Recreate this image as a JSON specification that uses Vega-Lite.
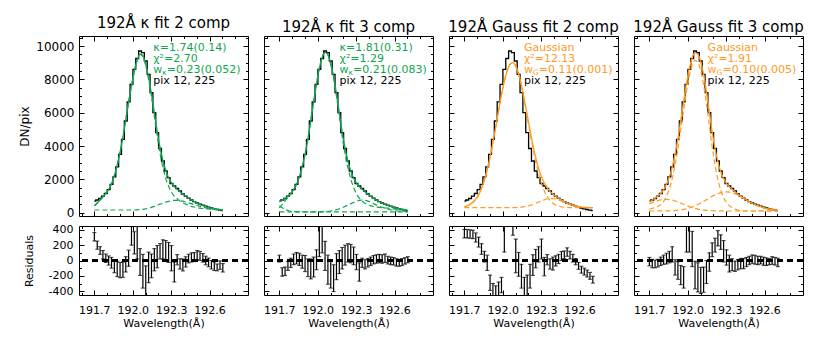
{
"$schema":"https://vega.github.io/schema/vega-lite/v6.json",
"background":"white",
"padding":{"left":18,"top":15,"right":5,"bottom":5},
"datasets":{"d":[
{"l":191.7,"v":690,"t1":420,"a1":420,"b1":160,"t2":660,"a2":290,"b2":50,"c2":420,"t3":366,"a3":366,"b3":300,"t4":620,"a4":195,"b4":525,"c4":100,"lo1":255,"hi1":365,"lo2":-20,"hi2":70,"lo3":295,"hi3":405,"lo4":-70,"hi4":40},
{"l":191.7223,"v":760,"t1":580,"a1":580,"b1":160,"t2":750,"a2":500,"b2":50,"c2":300,"t3":416,"a3":416,"b3":300,"t4":760,"a4":264,"b4":596,"c4":100,"lo1":147,"hi1":253,"lo2":-205,"hi2":-95,"lo3":295,"hi3":405,"lo4":-95,"hi4":15},
{"l":191.7446,"v":850,"t1":760,"a1":760,"b1":160,"t2":860,"a2":710,"b2":50,"c2":200,"t3":497,"a3":497,"b3":300,"t4":870,"a4":305,"b4":665,"c4":100,"lo1":80,"hi1":180,"lo2":-195,"hi2":-85,"lo3":290,"hi3":400,"lo4":-95,"hi4":5},
{"l":191.7669,"v":990,"t1":950,"a1":950,"b1":160,"t2":990,"a2":910,"b2":50,"c2":130,"t3":623,"a3":623,"b3":300,"t4":1000,"a4":375,"b4":723,"c4":102,"lo1":20,"hi1":130,"lo2":-128,"hi2":-12,"lo3":285,"hi3":395,"lo4":-85,"hi4":15},
{"l":191.7892,"v":1150,"t1":1150,"a1":1150,"b1":160,"t2":1150,"a2":1115,"b2":50,"c2":85,"t3":810,"a3":810,"b3":300,"t4":1150,"a4":480,"b4":766,"c4":104,"lo1":-25,"hi1":85,"lo2":-90,"hi2":30,"lo3":240,"hi3":360,"lo4":-65,"hi4":45},
{"l":191.8115,"v":1380,"t1":1390,"a1":1390,"b1":160,"t2":1380,"a2":1368,"b2":50,"c2":62,"t3":1080,"a3":1080,"b3":300,"t4":1380,"a4":681,"b4":793,"c4":106,"lo1":-60,"hi1":60,"lo2":-55,"hi2":85,"lo3":175,"hi3":305,"lo4":-50,"hi4":70},
{"l":191.8338,"v":1700,"t1":1740,"a1":1740,"b1":160,"t2":1700,"a2":1700,"b2":50,"c2":50,"t3":1454,"a3":1454,"b3":300,"t4":1700,"a4":990,"b4":800,"c4":110,"lo1":-100,"hi1":40,"lo2":-45,"hi2":105,"lo3":80,"hi3":220,"lo4":-45,"hi4":95},
{"l":191.8561,"v":2150,"t1":2220,"a1":2220,"b1":160,"t2":2150,"a2":2150,"b2":50,"c2":50,"t3":1948,"a3":1948,"b3":300,"t4":2150,"a4":1449,"b4":786,"c4":115,"lo1":-160,"hi1":10,"lo2":-65,"hi2":95,"lo3":-20,"hi3":120,"lo4":-30,"hi4":120},
{"l":191.8784,"v":2750,"t1":2850,"a1":2850,"b1":160,"t2":2750,"a2":2750,"b2":50,"c2":50,"t3":2573,"a3":2573,"b3":300,"t4":2720,"a4":2043,"b4":754,"c4":123,"lo1":-210,"hi1":-10,"lo2":-100,"hi2":70,"lo3":-130,"hi3":70,"lo4":-20,"hi4":180},
{"l":191.9007,"v":3500,"t1":3620,"a1":3620,"b1":160,"t2":3500,"a2":3500,"b2":50,"c2":50,"t3":3328,"a3":3328,"b3":300,"t4":3520,"a4":2884,"b4":703,"c4":133,"lo1":-225,"hi1":-25,"lo2":-145,"hi2":65,"lo3":-390,"hi3":-190,"lo4":-190,"hi4":10},
{"l":191.923,"v":4400,"t1":4530,"a1":4530,"b1":160,"t2":4420,"a2":4420,"b2":50,"c2":50,"t3":4200,"a3":4200,"b3":300,"t4":4450,"a4":3859,"b4":642,"c4":149,"lo1":-220,"hi1":-20,"lo2":-210,"hi2":20,"lo3":-500,"hi3":-300,"lo4":-245,"hi4":-15},
{"l":191.9453,"v":5500,"t1":5580,"a1":5580,"b1":160,"t2":5520,"a2":5520,"b2":50,"c2":50,"t3":5150,"a3":5150,"b3":300,"t4":5550,"a4":5007,"b4":573,"c4":170,"lo1":-150,"hi1":50,"lo2":-240,"hi2":20,"lo3":-530,"hi3":-330,"lo4":-315,"hi4":-65},
{"l":191.9676,"v":6650,"t1":6640,"a1":6640,"b1":160,"t2":6650,"a2":6650,"b2":50,"c2":50,"t3":6130,"a3":6130,"b3":300,"t4":6650,"a4":6152,"b4":499,"c4":199,"lo1":-75,"hi1":135,"lo2":-215,"hi2":45,"lo3":-480,"hi3":-280,"lo4":-360,"hi4":-80},
{"l":191.9899,"v":7700,"t1":7600,"a1":7600,"b1":160,"t2":7720,"a2":7720,"b2":50,"c2":50,"t3":7065,"a3":7065,"b3":300,"t4":7750,"a4":7286,"b4":428,"c4":236,"lo1":200,"hi1":460,"lo2":-120,"hi2":140,"lo3":-420,"hi3":-220,"lo4":110,"hi4":470},
{"l":192.0122,"v":8600,"t1":8480,"a1":8480,"b1":160,"t2":8650,"a2":8650,"b2":50,"c2":50,"t3":7886,"a3":7886,"b3":300,"t4":8650,"a4":8205,"b4":363,"c4":282,"lo1":85,"hi1":375,"lo2":50,"hi2":470,"lo3":110,"hi3":490,"lo4":110,"hi4":490},
{"l":192.0345,"v":9250,"t1":9150,"a1":9140,"b1":170,"t2":9330,"a2":9330,"b2":50,"c2":50,"t3":8518,"a3":8518,"b3":300,"t4":9300,"a4":8856,"b4":302,"c4":342,"lo1":20,"hi1":460,"lo2":100,"hi2":500,"lo3":550,"hi3":850,"lo4":-80,"hi4":380},
{"l":192.0568,"v":9700,"t1":9520,"a1":9500,"b1":180,"t2":9620,"a2":9610,"b2":60,"c2":50,"t3":8901,"a3":8901,"b3":300,"t4":9600,"a4":9137,"b4":253,"c4":410,"lo1":-195,"hi1":155,"lo2":-130,"hi2":250,"lo3":540,"hi3":860,"lo4":-370,"hi4":-10},
{"l":192.0791,"v":9600,"t1":9420,"a1":9380,"b1":200,"t2":9480,"a2":9455,"b2":75,"c2":50,"t3":9001,"a3":8995,"b3":306,"t4":9500,"a4":8999,"b4":212,"c4":489,"lo1":-360,"hi1":80,"lo2":-310,"hi2":70,"lo3":330,"hi3":630,"lo4":-410,"hi4":-30},
{"l":192.1014,"v":9100,"t1":8900,"a1":8830,"b1":230,"t2":8950,"a2":8900,"b2":100,"c2":50,"t3":8803,"a3":8792,"b3":311,"t4":9050,"a4":8493,"b4":180,"c4":577,"lo1":-530,"hi1":-70,"lo2":-360,"hi2":0,"lo3":-160,"hi3":280,"lo4":-430,"hi4":-90},
{"l":192.1237,"v":8300,"t1":8120,"a1":8010,"b1":270,"t2":8150,"a2":8065,"b2":135,"c2":50,"t3":8334,"a3":8313,"b3":321,"t4":8300,"a4":7668,"b4":154,"c4":678,"lo1":-290,"hi1":110,"lo2":-405,"hi2":-55,"lo3":-205,"hi3":105,"lo4":-415,"hi4":-85},
{"l":192.146,"v":7200,"t1":7120,"a1":6960,"b1":320,"t2":7120,"a2":6990,"b2":180,"c2":50,"t3":7636,"a3":7600,"b3":336,"t4":7250,"a4":6534,"b4":137,"c4":779,"lo1":-225,"hi1":85,"lo2":-250,"hi2":90,"lo3":-360,"hi3":-50,"lo4":-300,"hi4":0},
{"l":192.1683,"v":6000,"t1":6000,"a1":5780,"b1":380,"t2":5980,"a2":5795,"b2":235,"c2":50,"t3":6788,"a3":6730,"b3":358,"t4":6050,"a4":5245,"b4":124,"c4":881,"lo1":-135,"hi1":155,"lo2":-170,"hi2":130,"lo3":-480,"hi3":-220,"lo4":-140,"hi4":100},
{"l":192.1906,"v":4800,"t1":4890,"a1":4610,"b1":440,"t2":4850,"a2":4600,"b2":300,"c2":50,"t3":5864,"a3":5772,"b3":392,"t4":4850,"a4":3952,"b4":115,"c4":983,"lo1":-95,"hi1":195,"lo2":-110,"hi2":170,"lo3":-470,"hi3":-190,"lo4":50,"hi4":230},
{"l":192.2129,"v":3850,"t1":3910,"a1":3560,"b1":510,"t2":3880,"a2":3560,"b2":370,"c2":50,"t3":4934,"a3":4798,"b3":436,"t4":3850,"a4":2869,"b4":109,"c4":1072,"lo1":20,"hi1":220,"lo2":-60,"hi2":200,"lo3":-360,"hi3":-50,"lo4":110,"hi4":290},
{"l":192.2352,"v":3100,"t1":3130,"a1":2720,"b1":570,"t2":3100,"a2":2700,"b2":450,"c2":50,"t3":4059,"a3":3867,"b3":492,"t4":3050,"a4":1998,"b4":105,"c4":1147,"lo1":20,"hi1":270,"lo2":-20,"hi2":220,"lo3":-195,"hi3":75,"lo4":190,"hi4":390},
{"l":192.2575,"v":2500,"t1":2530,"a1":2060,"b1":630,"t2":2500,"a2":2020,"b2":530,"c2":50,"t3":3297,"a3":3036,"b3":561,"t4":2450,"a4":1341,"b4":103,"c4":1206,"lo1":0,"hi1":260,"lo2":-30,"hi2":210,"lo3":-95,"hi3":145,"lo4":145,"hi4":335},
{"l":192.2798,"v":2100,"t1":2100,"a1":1580,"b1":680,"t2":2080,"a2":1520,"b2":610,"c2":50,"t3":2661,"a3":2327,"b3":634,"t4":2050,"a4":910,"b4":100,"c4":1240,"lo1":-25,"hi1":235,"lo2":-55,"hi2":175,"lo3":-20,"hi3":180,"lo4":-20,"hi4":260},
{"l":192.3021,"v":1750,"t1":1790,"a1":1230,"b1":720,"t2":1770,"a2":1140,"b2":680,"c2":50,"t3":2157,"a3":1751,"b3":706,"t4":1760,"a4":610,"b4":100,"c4":1250,"lo1":-135,"hi1":195,"lo2":-120,"hi2":80,"lo3":20,"hi3":280,"lo4":-60,"hi4":140},
{"l":192.3244,"v":1600,"t1":1570,"a1":990,"b1":740,"t2":1560,"a2":870,"b2":740,"c2":50,"t3":1773,"a3":1303,"b3":770,"t4":1560,"a4":425,"b4":100,"c4":1235,"lo1":-280,"hi1":-20,"lo2":-270,"hi2":-30,"lo3":-200,"hi3":40,"lo4":-150,"hi4":70},
{"l":192.3467,"v":1450,"t1":1410,"a1":830,"b1":740,"t2":1400,"a2":690,"b2":760,"c2":50,"t3":1491,"a3":970,"b3":821,"t4":1400,"a4":305,"b4":100,"c4":1195,"lo1":-57,"hi1":77,"lo2":-90,"hi2":30,"lo3":-57,"hi3":77,"lo4":-133,"hi4":23},
{"l":192.369,"v":1300,"t1":1260,"a1":700,"b1":720,"t2":1250,"a2":560,"b2":740,"c2":50,"t3":1280,"a3":733,"b3":847,"t4":1250,"a4":215,"b4":100,"c4":1135,"lo1":-112,"hi1":22,"lo2":-110,"hi2":10,"lo3":-112,"hi3":22,"lo4":-142,"hi4":-8},
{"l":192.3913,"v":1120,"t1":1120,"a1":590,"b1":690,"t2":1110,"a2":470,"b2":690,"c2":50,"t3":1117,"a3":570,"b3":847,"t4":1110,"a4":153,"b4":100,"c4":1057,"lo1":-136,"hi1":20,"lo2":-85,"hi2":25,"lo3":-125,"hi3":45,"lo4":-122,"hi4":12},
{"l":192.4136,"v":990,"t1":990,"a1":510,"b1":640,"t2":980,"a2":410,"b2":620,"c2":50,"t3":984,"a3":463,"b3":821,"t4":980,"a4":114,"b4":100,"c4":966,"lo1":-85,"hi1":49,"lo2":-65,"hi2":45,"lo3":-72,"hi3":62,"lo4":-107,"hi4":27},
{"l":192.4359,"v":870,"t1":870,"a1":440,"b1":590,"t2":860,"a2":370,"b2":540,"c2":50,"t3":866,"a3":396,"b3":770,"t4":860,"a4":100,"b4":100,"c4":862,"lo1":-31,"hi1":81,"lo2":-45,"hi2":65,"lo3":-40,"hi3":80,"lo4":-107,"hi4":27},
{"l":192.4582,"v":760,"t1":760,"a1":380,"b1":540,"t2":755,"a2":345,"b2":460,"c2":50,"t3":760,"a3":354,"b3":706,"t4":750,"a4":100,"b4":100,"c4":760,"lo1":-20,"hi1":100,"lo2":-35,"hi2":75,"lo3":2,"hi3":118,"lo4":-80,"hi4":40},
{"l":192.4805,"v":660,"t1":660,"a1":340,"b1":480,"t2":660,"a2":320,"b2":390,"c2":50,"t3":664,"a3":330,"b3":634,"t4":650,"a4":100,"b4":100,"c4":660,"lo1":-13,"hi1":103,"lo2":-30,"hi2":80,"lo3":25,"hi3":125,"lo4":-55,"hi4":55},
{"l":192.5028,"v":580,"t1":570,"a1":300,"b1":430,"t2":575,"a2":300,"b2":325,"c2":50,"t3":574,"a3":316,"b3":558,"t4":565,"a4":100,"b4":100,"c4":560,"lo1":10,"hi1":130,"lo2":-35,"hi2":75,"lo3":55,"hi3":165,"lo4":-37,"hi4":73},
{"l":192.5251,"v":510,"t1":490,"a1":270,"b1":380,"t2":500,"a2":285,"b2":265,"c2":50,"t3":500,"a3":308,"b3":492,"t4":490,"a4":100,"b4":100,"c4":474,"lo1":2,"hi1":118,"lo2":-25,"hi2":85,"lo3":20,"hi3":120,"lo4":-48,"hi4":68},
{"l":192.5474,"v":450,"t1":420,"a1":250,"b1":330,"t2":435,"a2":270,"b2":215,"c2":50,"t3":440,"a3":304,"b3":436,"t4":420,"a4":100,"b4":100,"c4":397,"lo1":-21,"hi1":91,"lo2":-45,"hi2":55,"lo3":-20,"hi3":80,"lo4":-55,"hi4":55},
{"l":192.5697,"v":390,"t1":365,"a1":235,"b1":290,"t2":375,"a2":250,"b2":175,"c2":50,"t3":392,"a3":302,"b3":390,"t4":360,"a4":100,"b4":100,"c4":328,"lo1":-56,"hi1":56,"lo2":-55,"hi2":45,"lo3":-55,"hi3":25,"lo4":-45,"hi4":55},
{"l":192.592,"v":330,"t1":315,"a1":225,"b1":250,"t2":320,"a2":230,"b2":140,"c2":50,"t3":358,"a3":300,"b3":358,"t4":305,"a4":100,"b4":100,"c4":273,"lo1":-81,"hi1":31,"lo2":-58,"hi2":38,"lo3":-115,"hi3":-25,"lo4":-63,"hi4":43},
{"l":192.6143,"v":280,"t1":270,"a1":210,"b1":220,"t2":270,"a2":205,"b2":115,"c2":50,"t3":336,"a3":300,"b3":336,"t4":260,"a4":100,"b4":100,"c4":229,"lo1":-111,"hi1":1,"lo2":-73,"hi2":23,"lo3":-165,"hi3":-75,"lo4":-65,"hi4":35},
{"l":192.6366,"v":230,"t1":235,"a1":195,"b1":200,"t2":230,"a2":185,"b2":95,"c2":50,"t3":321,"a3":300,"b3":321,"t4":225,"a4":100,"b4":100,"c4":193,"lo1":-131,"hi1":-19,"lo2":-75,"hi2":15,"lo3":-190,"hi3":-100,"lo4":-55,"hi4":25},
{"l":192.6589,"v":190,"t1":205,"a1":185,"b1":180,"t2":195,"a2":165,"b2":80,"c2":50,"t3":311,"a3":300,"b3":311,"t4":195,"a4":100,"b4":100,"c4":166,"lo1":-135,"hi1":-45,"lo2":-65,"hi2":25,"lo3":-215,"hi3":-125,"lo4":-50,"hi4":50},
{"l":192.6812,"v":150,"t1":180,"a1":170,"b1":170,"t2":165,"a2":147,"b2":68,"c2":50,"t3":306,"a3":300,"b3":306,"t4":170,"a4":100,"b4":100,"c4":146,"lo1":-115,"hi1":-5,"lo2":-47,"hi2":37,"lo3":-245,"hi3":-155,"lo4":-60,"hi4":40},
{"l":192.7035,"v":120,"t1":160,"a1":160,"b1":160,"t2":140,"a2":130,"b2":60,"c2":50,"t3":303,"a3":300,"b3":303,"t4":150,"a4":100,"b4":100,"c4":131,"lo1":-150,"hi1":-40,"lo2":-30,"hi2":50,"lo3":-295,"hi3":-205,"lo4":-80,"hi4":30}
]},
"data":{"name":"d"},
"config":{
"font":"DejaVu Sans",
"view":{"stroke":"black","strokeWidth":1},
"axis":{"domain":false,"grid":false,"tickColor":"black","tickWidth":1,"labelColor":"black","titleColor":"black","labelFont":"DejaVu Sans","titleFont":"DejaVu Sans","titleFontWeight":"normal","labelOverlap":false,"labelFlush":false},
"title":{"font":"DejaVu Sans","fontSize":15,"fontWeight":"normal","color":"black","offset":1,"anchor":"middle"},
"text":{"font":"DejaVu Sans"}
},
"columns":4,
"bounds":"flush",
"spacing":{"row":10,"column":16},
"concat":[
{"width":169,"height":180,"title":"192Å κ fit 2 comp","resolve":{"axis":{"x":"independent","y":"independent"}},
"layer":[
{"mark":{"type":"line","interpolate":"step","color":"black","strokeWidth":1.3},
"encoding":{"x":{"field":"l","type":"quantitative","scale":{"domain":[191.58,192.9],"nice":false,"zero":false},"axis":{"values":[191.6,191.7,191.8,191.9,192.0,192.1,192.2,192.3,192.4,192.5,192.6,192.7,192.8],"labels":false,"title":null,"tickSize":{"condition":{"test":"round(datum.value*10)%3==0","value":-5},"value":-2.5}}},
"y":{"field":"v","type":"quantitative","scale":{"domain":[-200,10600],"nice":false,"zero":false},"axis":{"values":[0,500,1000,1500,2000,2500,3000,3500,4000,4500,5000,5500,6000,6500,7000,7500,8000,8500,9000,9500,10000,10500],"format":"d","labelExpr":"datum.value%2000==0 ? datum.label : ''","title":"DN/pix","titleFontSize":12,"labelFontSize":12,"labelPadding":10,"titlePadding":4,"tickSize":{"condition":{"test":"datum.value%2000==0","value":-5},"value":-2.5}}}}},
{"mark":{"type":"line","interpolate":"monotone","color":"#10a650","strokeWidth":1.3},"encoding":{"x":{"field":"l","type":"quantitative","axis":null},"y":{"field":"t1","type":"quantitative","axis":null}}},
{"transform":[{"fold":["a1","b1"],"as":["c","w"]}],"mark":{"type":"line","interpolate":"monotone","color":"#10a650","strokeWidth":1.2,"strokeDash":[5,3]},"encoding":{"x":{"field":"l","type":"quantitative","axis":null},"y":{"field":"w","type":"quantitative","axis":null},"detail":{"field":"c"}}},
{"data":{"values":[{}]},"mark":{"type":"text","align":"left","baseline":"middle","fontSize":11,"color":"#10a650","text":"κ=1.74(0.14)"},"encoding":{"x":{"datum":192.16,"type":"quantitative","axis":null},"y":{"datum":9900,"type":"quantitative","axis":null}}},
{"data":{"values":[{}]},"mark":{"type":"text","align":"left","baseline":"middle","fontSize":11,"color":"#10a650","text":"χ²=2.70"},"encoding":{"x":{"datum":192.16,"type":"quantitative","axis":null},"y":{"datum":9240,"type":"quantitative","axis":null}}},
{"data":{"values":[{}]},"mark":{"type":"text","align":"left","baseline":"middle","fontSize":11,"color":"#10a650","text":"w"},"encoding":{"x":{"datum":192.16,"type":"quantitative","axis":null},"y":{"datum":8580,"type":"quantitative","axis":null}}},
{"data":{"values":[{}]},"mark":{"type":"text","align":"left","baseline":"middle","fontSize":7.5,"dx":9,"dy":3,"color":"#10a650","text":"κ"},"encoding":{"x":{"datum":192.16,"type":"quantitative","axis":null},"y":{"datum":8580,"type":"quantitative","axis":null}}},
{"data":{"values":[{}]},"mark":{"type":"text","align":"left","baseline":"middle","fontSize":11,"dx":13.5,"color":"#10a650","text":"=0.23(0.052)"},"encoding":{"x":{"datum":192.16,"type":"quantitative","axis":null},"y":{"datum":8580,"type":"quantitative","axis":null}}},
{"data":{"values":[{}]},"mark":{"type":"text","align":"left","baseline":"middle","fontSize":11,"color":"black","text":"pix 12, 225"},"encoding":{"x":{"datum":192.16,"type":"quantitative","axis":null},"y":{"datum":7900,"type":"quantitative","axis":null}}},
{"mark":{"type":"point","opacity":0},"encoding":{"x":{"field":"l","type":"quantitative","axis":{"orient":"top","values":[191.6,191.7,191.8,191.9,192.0,192.1,192.2,192.3,192.4,192.5,192.6,192.7,192.8],"labels":false,"title":null,"tickSize":{"condition":{"test":"round(datum.value*10)%3==0","value":-5},"value":-2.5}}},"y":{"field":"v","type":"quantitative","axis":{"orient":"right","values":[0,500,1000,1500,2000,2500,3000,3500,4000,4500,5000,5500,6000,6500,7000,7500,8000,8500,9000,9500,10000,10500],"labels":false,"title":null,"tickSize":{"condition":{"test":"datum.value%2000==0","value":-5},"value":-2.5}}}}}
]},
{"width":169,"height":180,"title":"192Å κ fit 3 comp","resolve":{"axis":{"x":"independent","y":"independent"}},
"layer":[
{"mark":{"type":"line","interpolate":"step","color":"black","strokeWidth":1.3},
"encoding":{"x":{"field":"l","type":"quantitative","scale":{"domain":[191.58,192.9],"nice":false,"zero":false},"axis":{"values":[191.6,191.7,191.8,191.9,192.0,192.1,192.2,192.3,192.4,192.5,192.6,192.7,192.8],"labels":false,"title":null,"tickSize":{"condition":{"test":"round(datum.value*10)%3==0","value":-5},"value":-2.5}}},
"y":{"field":"v","type":"quantitative","scale":{"domain":[-200,10600],"nice":false,"zero":false},"axis":{"values":[0,500,1000,1500,2000,2500,3000,3500,4000,4500,5000,5500,6000,6500,7000,7500,8000,8500,9000,9500,10000,10500],"labels":false,"title":null,"tickSize":{"condition":{"test":"datum.value%2000==0","value":-5},"value":-2.5}}}}},
{"mark":{"type":"line","interpolate":"monotone","color":"#10a650","strokeWidth":1.3},"encoding":{"x":{"field":"l","type":"quantitative","axis":null},"y":{"field":"t2","type":"quantitative","axis":null}}},
{"transform":[{"fold":["a2","b2","c2"],"as":["c","w"]}],"mark":{"type":"line","interpolate":"monotone","color":"#10a650","strokeWidth":1.2,"strokeDash":[5,3]},"encoding":{"x":{"field":"l","type":"quantitative","axis":null},"y":{"field":"w","type":"quantitative","axis":null},"detail":{"field":"c"}}},
{"data":{"values":[{}]},"mark":{"type":"text","align":"left","baseline":"middle","fontSize":11,"color":"#10a650","text":"κ=1.81(0.31)"},"encoding":{"x":{"datum":192.17,"type":"quantitative","axis":null},"y":{"datum":9900,"type":"quantitative","axis":null}}},
{"data":{"values":[{}]},"mark":{"type":"text","align":"left","baseline":"middle","fontSize":11,"color":"#10a650","text":"χ²=1.29"},"encoding":{"x":{"datum":192.17,"type":"quantitative","axis":null},"y":{"datum":9240,"type":"quantitative","axis":null}}},
{"data":{"values":[{}]},"mark":{"type":"text","align":"left","baseline":"middle","fontSize":11,"color":"#10a650","text":"w"},"encoding":{"x":{"datum":192.17,"type":"quantitative","axis":null},"y":{"datum":8580,"type":"quantitative","axis":null}}},
{"data":{"values":[{}]},"mark":{"type":"text","align":"left","baseline":"middle","fontSize":7.5,"dx":9,"dy":3,"color":"#10a650","text":"κ"},"encoding":{"x":{"datum":192.17,"type":"quantitative","axis":null},"y":{"datum":8580,"type":"quantitative","axis":null}}},
{"data":{"values":[{}]},"mark":{"type":"text","align":"left","baseline":"middle","fontSize":11,"dx":13.5,"color":"#10a650","text":"=0.21(0.083)"},"encoding":{"x":{"datum":192.17,"type":"quantitative","axis":null},"y":{"datum":8580,"type":"quantitative","axis":null}}},
{"data":{"values":[{}]},"mark":{"type":"text","align":"left","baseline":"middle","fontSize":11,"color":"black","text":"pix 12, 225"},"encoding":{"x":{"datum":192.17,"type":"quantitative","axis":null},"y":{"datum":7900,"type":"quantitative","axis":null}}},
{"mark":{"type":"point","opacity":0},"encoding":{"x":{"field":"l","type":"quantitative","axis":{"orient":"top","values":[191.6,191.7,191.8,191.9,192.0,192.1,192.2,192.3,192.4,192.5,192.6,192.7,192.8],"labels":false,"title":null,"tickSize":{"condition":{"test":"round(datum.value*10)%3==0","value":-5},"value":-2.5}}},"y":{"field":"v","type":"quantitative","axis":{"orient":"right","values":[0,500,1000,1500,2000,2500,3000,3500,4000,4500,5000,5500,6000,6500,7000,7500,8000,8500,9000,9500,10000,10500],"labels":false,"title":null,"tickSize":{"condition":{"test":"datum.value%2000==0","value":-5},"value":-2.5}}}}}
]},
{"width":169,"height":180,"title":"192Å Gauss fit 2 comp","resolve":{"axis":{"x":"independent","y":"independent"}},
"layer":[
{"mark":{"type":"line","interpolate":"step","color":"black","strokeWidth":1.3},
"encoding":{"x":{"field":"l","type":"quantitative","scale":{"domain":[191.58,192.9],"nice":false,"zero":false},"axis":{"values":[191.6,191.7,191.8,191.9,192.0,192.1,192.2,192.3,192.4,192.5,192.6,192.7,192.8],"labels":false,"title":null,"tickSize":{"condition":{"test":"round(datum.value*10)%3==0","value":-5},"value":-2.5}}},
"y":{"field":"v","type":"quantitative","scale":{"domain":[-200,10600],"nice":false,"zero":false},"axis":{"values":[0,500,1000,1500,2000,2500,3000,3500,4000,4500,5000,5500,6000,6500,7000,7500,8000,8500,9000,9500,10000,10500],"labels":false,"title":null,"tickSize":{"condition":{"test":"datum.value%2000==0","value":-5},"value":-2.5}}}}},
{"mark":{"type":"line","interpolate":"monotone","color":"#ff9a1e","strokeWidth":1.3},"encoding":{"x":{"field":"l","type":"quantitative","axis":null},"y":{"field":"t3","type":"quantitative","axis":null}}},
{"transform":[{"fold":["a3","b3"],"as":["c","w"]}],"mark":{"type":"line","interpolate":"monotone","color":"#ff9a1e","strokeWidth":1.2,"strokeDash":[5,3]},"encoding":{"x":{"field":"l","type":"quantitative","axis":null},"y":{"field":"w","type":"quantitative","axis":null},"detail":{"field":"c"}}},
{"data":{"values":[{}]},"mark":{"type":"text","align":"left","baseline":"middle","fontSize":11,"color":"#ff9a1e","text":"Gaussian"},"encoding":{"x":{"datum":192.165,"type":"quantitative","axis":null},"y":{"datum":9900,"type":"quantitative","axis":null}}},
{"data":{"values":[{}]},"mark":{"type":"text","align":"left","baseline":"middle","fontSize":11,"color":"#ff9a1e","text":"χ²=12.13"},"encoding":{"x":{"datum":192.165,"type":"quantitative","axis":null},"y":{"datum":9240,"type":"quantitative","axis":null}}},
{"data":{"values":[{}]},"mark":{"type":"text","align":"left","baseline":"middle","fontSize":11,"color":"#ff9a1e","text":"w"},"encoding":{"x":{"datum":192.165,"type":"quantitative","axis":null},"y":{"datum":8580,"type":"quantitative","axis":null}}},
{"data":{"values":[{}]},"mark":{"type":"text","align":"left","baseline":"middle","fontSize":7.5,"dx":9,"dy":3,"color":"#ff9a1e","text":"G"},"encoding":{"x":{"datum":192.165,"type":"quantitative","axis":null},"y":{"datum":8580,"type":"quantitative","axis":null}}},
{"data":{"values":[{}]},"mark":{"type":"text","align":"left","baseline":"middle","fontSize":11,"dx":14.8,"color":"#ff9a1e","text":"=0.11(0.001)"},"encoding":{"x":{"datum":192.165,"type":"quantitative","axis":null},"y":{"datum":8580,"type":"quantitative","axis":null}}},
{"data":{"values":[{}]},"mark":{"type":"text","align":"left","baseline":"middle","fontSize":11,"color":"black","text":"pix 12, 225"},"encoding":{"x":{"datum":192.165,"type":"quantitative","axis":null},"y":{"datum":7900,"type":"quantitative","axis":null}}},
{"mark":{"type":"point","opacity":0},"encoding":{"x":{"field":"l","type":"quantitative","axis":{"orient":"top","values":[191.6,191.7,191.8,191.9,192.0,192.1,192.2,192.3,192.4,192.5,192.6,192.7,192.8],"labels":false,"title":null,"tickSize":{"condition":{"test":"round(datum.value*10)%3==0","value":-5},"value":-2.5}}},"y":{"field":"v","type":"quantitative","axis":{"orient":"right","values":[0,500,1000,1500,2000,2500,3000,3500,4000,4500,5000,5500,6000,6500,7000,7500,8000,8500,9000,9500,10000,10500],"labels":false,"title":null,"tickSize":{"condition":{"test":"datum.value%2000==0","value":-5},"value":-2.5}}}}}
]},
{"width":169,"height":180,"title":"192Å Gauss fit 3 comp","resolve":{"axis":{"x":"independent","y":"independent"}},
"layer":[
{"mark":{"type":"line","interpolate":"step","color":"black","strokeWidth":1.3},
"encoding":{"x":{"field":"l","type":"quantitative","scale":{"domain":[191.58,192.9],"nice":false,"zero":false},"axis":{"values":[191.6,191.7,191.8,191.9,192.0,192.1,192.2,192.3,192.4,192.5,192.6,192.7,192.8],"labels":false,"title":null,"tickSize":{"condition":{"test":"round(datum.value*10)%3==0","value":-5},"value":-2.5}}},
"y":{"field":"v","type":"quantitative","scale":{"domain":[-200,10600],"nice":false,"zero":false},"axis":{"values":[0,500,1000,1500,2000,2500,3000,3500,4000,4500,5000,5500,6000,6500,7000,7500,8000,8500,9000,9500,10000,10500],"labels":false,"title":null,"tickSize":{"condition":{"test":"datum.value%2000==0","value":-5},"value":-2.5}}}}},
{"mark":{"type":"line","interpolate":"monotone","color":"#ff9a1e","strokeWidth":1.3},"encoding":{"x":{"field":"l","type":"quantitative","axis":null},"y":{"field":"t4","type":"quantitative","axis":null}}},
{"transform":[{"fold":["a4","b4","c4"],"as":["c","w"]}],"mark":{"type":"line","interpolate":"monotone","color":"#ff9a1e","strokeWidth":1.2,"strokeDash":[5,3]},"encoding":{"x":{"field":"l","type":"quantitative","axis":null},"y":{"field":"w","type":"quantitative","axis":null},"detail":{"field":"c"}}},
{"data":{"values":[{}]},"mark":{"type":"text","align":"left","baseline":"middle","fontSize":11,"color":"#ff9a1e","text":"Gaussian"},"encoding":{"x":{"datum":192.155,"type":"quantitative","axis":null},"y":{"datum":9900,"type":"quantitative","axis":null}}},
{"data":{"values":[{}]},"mark":{"type":"text","align":"left","baseline":"middle","fontSize":11,"color":"#ff9a1e","text":"χ²=1.91"},"encoding":{"x":{"datum":192.155,"type":"quantitative","axis":null},"y":{"datum":9240,"type":"quantitative","axis":null}}},
{"data":{"values":[{}]},"mark":{"type":"text","align":"left","baseline":"middle","fontSize":11,"color":"#ff9a1e","text":"w"},"encoding":{"x":{"datum":192.155,"type":"quantitative","axis":null},"y":{"datum":8580,"type":"quantitative","axis":null}}},
{"data":{"values":[{}]},"mark":{"type":"text","align":"left","baseline":"middle","fontSize":7.5,"dx":9,"dy":3,"color":"#ff9a1e","text":"G"},"encoding":{"x":{"datum":192.155,"type":"quantitative","axis":null},"y":{"datum":8580,"type":"quantitative","axis":null}}},
{"data":{"values":[{}]},"mark":{"type":"text","align":"left","baseline":"middle","fontSize":11,"dx":14.8,"color":"#ff9a1e","text":"=0.10(0.005)"},"encoding":{"x":{"datum":192.155,"type":"quantitative","axis":null},"y":{"datum":8580,"type":"quantitative","axis":null}}},
{"data":{"values":[{}]},"mark":{"type":"text","align":"left","baseline":"middle","fontSize":11,"color":"black","text":"pix 12, 225"},"encoding":{"x":{"datum":192.155,"type":"quantitative","axis":null},"y":{"datum":7900,"type":"quantitative","axis":null}}},
{"mark":{"type":"point","opacity":0},"encoding":{"x":{"field":"l","type":"quantitative","axis":{"orient":"top","values":[191.6,191.7,191.8,191.9,192.0,192.1,192.2,192.3,192.4,192.5,192.6,192.7,192.8],"labels":false,"title":null,"tickSize":{"condition":{"test":"round(datum.value*10)%3==0","value":-5},"value":-2.5}}},"y":{"field":"v","type":"quantitative","axis":{"orient":"right","values":[0,500,1000,1500,2000,2500,3000,3500,4000,4500,5000,5500,6000,6500,7000,7500,8000,8500,9000,9500,10000,10500],"labels":false,"title":null,"tickSize":{"condition":{"test":"datum.value%2000==0","value":-5},"value":-2.5}}}}}
]},
{"width":169,"height":69,"resolve":{"axis":{"x":"independent","y":"independent"}},
"layer":[
{"mark":{"type":"rule","color":"black","strokeWidth":1.2,"clip":true},
"encoding":{"x":{"field":"l","type":"quantitative","scale":{"domain":[191.58,192.9],"nice":false,"zero":false},"axis":{"values":[191.6,191.7,191.8,191.9,192.0,192.1,192.2,192.3,192.4,192.5,192.6,192.7,192.8],"format":".1f","labelExpr":"round(datum.value*10)%3==0 ? datum.label : ''","title":"Wavelength(Å)","titleFontSize":11,"labelFontSize":11,"labelPadding":14,"titlePadding":0,"tickSize":{"condition":{"test":"round(datum.value*10)%3==0","value":-5},"value":-2.5}}},
"y":{"field":"lo1","type":"quantitative","scale":{"domain":[-450,450],"nice":false,"zero":false},"axis":{"values":[-400,-300,-200,-100,0,100,200,300,400],"format":"d","labelExpr":"datum.value%200==0 ? replace(datum.label,'−','-') : ''","title":"Residuals","titleFontSize":11,"labelFontSize":11,"labelPadding":11,"titlePadding":14,"tickSize":{"condition":{"test":"datum.value%200==0","value":-5},"value":-2.5}}},
"y2":{"field":"hi1"}}},
{"mark":{"type":"tick","orient":"horizontal","color":"black","size":4,"thickness":1.1,"clip":true},"encoding":{"x":{"field":"l","type":"quantitative","scale":{"domain":[191.58,192.9],"nice":false,"zero":false},"axis":null},"y":{"field":"lo1","type":"quantitative","scale":{"domain":[-450,450],"nice":false,"zero":false},"axis":null}}},
{"mark":{"type":"tick","orient":"horizontal","color":"black","size":4,"thickness":1.1,"clip":true},"encoding":{"x":{"field":"l","type":"quantitative","scale":{"domain":[191.58,192.9],"nice":false,"zero":false},"axis":null},"y":{"field":"hi1","type":"quantitative","scale":{"domain":[-450,450],"nice":false,"zero":false},"axis":null}}},
{"mark":{"type":"rule","color":"black","strokeDash":[6,4],"strokeWidth":1.6},"encoding":{"y":{"datum":0,"type":"quantitative","scale":{"domain":[-450,450],"nice":false,"zero":false},"axis":null}}},
{"mark":{"type":"point","opacity":0,"clip":true},"encoding":{"x":{"field":"l","type":"quantitative","scale":{"domain":[191.58,192.9],"nice":false,"zero":false},"axis":{"orient":"top","values":[191.6,191.7,191.8,191.9,192.0,192.1,192.2,192.3,192.4,192.5,192.6,192.7,192.8],"labels":false,"title":null,"tickSize":{"condition":{"test":"round(datum.value*10)%3==0","value":-5},"value":-2.5}}},"y":{"field":"lo1","type":"quantitative","scale":{"domain":[-450,450],"nice":false,"zero":false},"axis":{"orient":"right","values":[-400,-300,-200,-100,0,100,200,300,400],"labels":false,"title":null,"tickSize":{"condition":{"test":"datum.value%200==0","value":-5},"value":-2.5}}}}}
]},
{"width":169,"height":69,"resolve":{"axis":{"x":"independent","y":"independent"}},
"layer":[
{"mark":{"type":"rule","color":"black","strokeWidth":1.2,"clip":true},
"encoding":{"x":{"field":"l","type":"quantitative","scale":{"domain":[191.58,192.9],"nice":false,"zero":false},"axis":{"values":[191.6,191.7,191.8,191.9,192.0,192.1,192.2,192.3,192.4,192.5,192.6,192.7,192.8],"format":".1f","labelExpr":"round(datum.value*10)%3==0 ? datum.label : ''","title":"Wavelength(Å)","titleFontSize":11,"labelFontSize":11,"labelPadding":14,"titlePadding":0,"tickSize":{"condition":{"test":"round(datum.value*10)%3==0","value":-5},"value":-2.5}}},
"y":{"field":"lo2","type":"quantitative","scale":{"domain":[-450,450],"nice":false,"zero":false},"axis":{"values":[-400,-300,-200,-100,0,100,200,300,400],"labels":false,"title":null,"tickSize":{"condition":{"test":"datum.value%200==0","value":-5},"value":-2.5}}},
"y2":{"field":"hi2"}}},
{"mark":{"type":"tick","orient":"horizontal","color":"black","size":4,"thickness":1.1,"clip":true},"encoding":{"x":{"field":"l","type":"quantitative","scale":{"domain":[191.58,192.9],"nice":false,"zero":false},"axis":null},"y":{"field":"lo2","type":"quantitative","scale":{"domain":[-450,450],"nice":false,"zero":false},"axis":null}}},
{"mark":{"type":"tick","orient":"horizontal","color":"black","size":4,"thickness":1.1,"clip":true},"encoding":{"x":{"field":"l","type":"quantitative","scale":{"domain":[191.58,192.9],"nice":false,"zero":false},"axis":null},"y":{"field":"hi2","type":"quantitative","scale":{"domain":[-450,450],"nice":false,"zero":false},"axis":null}}},
{"mark":{"type":"rule","color":"black","strokeDash":[6,4],"strokeWidth":1.6},"encoding":{"y":{"datum":0,"type":"quantitative","scale":{"domain":[-450,450],"nice":false,"zero":false},"axis":null}}},
{"mark":{"type":"point","opacity":0,"clip":true},"encoding":{"x":{"field":"l","type":"quantitative","scale":{"domain":[191.58,192.9],"nice":false,"zero":false},"axis":{"orient":"top","values":[191.6,191.7,191.8,191.9,192.0,192.1,192.2,192.3,192.4,192.5,192.6,192.7,192.8],"labels":false,"title":null,"tickSize":{"condition":{"test":"round(datum.value*10)%3==0","value":-5},"value":-2.5}}},"y":{"field":"lo2","type":"quantitative","scale":{"domain":[-450,450],"nice":false,"zero":false},"axis":{"orient":"right","values":[-400,-300,-200,-100,0,100,200,300,400],"labels":false,"title":null,"tickSize":{"condition":{"test":"datum.value%200==0","value":-5},"value":-2.5}}}}}
]},
{"width":169,"height":69,"resolve":{"axis":{"x":"independent","y":"independent"}},
"layer":[
{"mark":{"type":"rule","color":"black","strokeWidth":1.2,"clip":true},
"encoding":{"x":{"field":"l","type":"quantitative","scale":{"domain":[191.58,192.9],"nice":false,"zero":false},"axis":{"values":[191.6,191.7,191.8,191.9,192.0,192.1,192.2,192.3,192.4,192.5,192.6,192.7,192.8],"format":".1f","labelExpr":"round(datum.value*10)%3==0 ? datum.label : ''","title":"Wavelength(Å)","titleFontSize":11,"labelFontSize":11,"labelPadding":14,"titlePadding":0,"tickSize":{"condition":{"test":"round(datum.value*10)%3==0","value":-5},"value":-2.5}}},
"y":{"field":"lo3","type":"quantitative","scale":{"domain":[-450,450],"nice":false,"zero":false},"axis":{"values":[-400,-300,-200,-100,0,100,200,300,400],"labels":false,"title":null,"tickSize":{"condition":{"test":"datum.value%200==0","value":-5},"value":-2.5}}},
"y2":{"field":"hi3"}}},
{"mark":{"type":"tick","orient":"horizontal","color":"black","size":4,"thickness":1.1,"clip":true},"encoding":{"x":{"field":"l","type":"quantitative","scale":{"domain":[191.58,192.9],"nice":false,"zero":false},"axis":null},"y":{"field":"lo3","type":"quantitative","scale":{"domain":[-450,450],"nice":false,"zero":false},"axis":null}}},
{"mark":{"type":"tick","orient":"horizontal","color":"black","size":4,"thickness":1.1,"clip":true},"encoding":{"x":{"field":"l","type":"quantitative","scale":{"domain":[191.58,192.9],"nice":false,"zero":false},"axis":null},"y":{"field":"hi3","type":"quantitative","scale":{"domain":[-450,450],"nice":false,"zero":false},"axis":null}}},
{"mark":{"type":"rule","color":"black","strokeDash":[6,4],"strokeWidth":1.6},"encoding":{"y":{"datum":0,"type":"quantitative","scale":{"domain":[-450,450],"nice":false,"zero":false},"axis":null}}},
{"mark":{"type":"point","opacity":0,"clip":true},"encoding":{"x":{"field":"l","type":"quantitative","scale":{"domain":[191.58,192.9],"nice":false,"zero":false},"axis":{"orient":"top","values":[191.6,191.7,191.8,191.9,192.0,192.1,192.2,192.3,192.4,192.5,192.6,192.7,192.8],"labels":false,"title":null,"tickSize":{"condition":{"test":"round(datum.value*10)%3==0","value":-5},"value":-2.5}}},"y":{"field":"lo3","type":"quantitative","scale":{"domain":[-450,450],"nice":false,"zero":false},"axis":{"orient":"right","values":[-400,-300,-200,-100,0,100,200,300,400],"labels":false,"title":null,"tickSize":{"condition":{"test":"datum.value%200==0","value":-5},"value":-2.5}}}}}
]},
{"width":169,"height":69,"resolve":{"axis":{"x":"independent","y":"independent"}},
"layer":[
{"mark":{"type":"rule","color":"black","strokeWidth":1.2,"clip":true},
"encoding":{"x":{"field":"l","type":"quantitative","scale":{"domain":[191.58,192.9],"nice":false,"zero":false},"axis":{"values":[191.6,191.7,191.8,191.9,192.0,192.1,192.2,192.3,192.4,192.5,192.6,192.7,192.8],"format":".1f","labelExpr":"round(datum.value*10)%3==0 ? datum.label : ''","title":"Wavelength(Å)","titleFontSize":11,"labelFontSize":11,"labelPadding":14,"titlePadding":0,"tickSize":{"condition":{"test":"round(datum.value*10)%3==0","value":-5},"value":-2.5}}},
"y":{"field":"lo4","type":"quantitative","scale":{"domain":[-450,450],"nice":false,"zero":false},"axis":{"values":[-400,-300,-200,-100,0,100,200,300,400],"labels":false,"title":null,"tickSize":{"condition":{"test":"datum.value%200==0","value":-5},"value":-2.5}}},
"y2":{"field":"hi4"}}},
{"mark":{"type":"tick","orient":"horizontal","color":"black","size":4,"thickness":1.1,"clip":true},"encoding":{"x":{"field":"l","type":"quantitative","scale":{"domain":[191.58,192.9],"nice":false,"zero":false},"axis":null},"y":{"field":"lo4","type":"quantitative","scale":{"domain":[-450,450],"nice":false,"zero":false},"axis":null}}},
{"mark":{"type":"tick","orient":"horizontal","color":"black","size":4,"thickness":1.1,"clip":true},"encoding":{"x":{"field":"l","type":"quantitative","scale":{"domain":[191.58,192.9],"nice":false,"zero":false},"axis":null},"y":{"field":"hi4","type":"quantitative","scale":{"domain":[-450,450],"nice":false,"zero":false},"axis":null}}},
{"mark":{"type":"rule","color":"black","strokeDash":[6,4],"strokeWidth":1.6},"encoding":{"y":{"datum":0,"type":"quantitative","scale":{"domain":[-450,450],"nice":false,"zero":false},"axis":null}}},
{"mark":{"type":"point","opacity":0,"clip":true},"encoding":{"x":{"field":"l","type":"quantitative","scale":{"domain":[191.58,192.9],"nice":false,"zero":false},"axis":{"orient":"top","values":[191.6,191.7,191.8,191.9,192.0,192.1,192.2,192.3,192.4,192.5,192.6,192.7,192.8],"labels":false,"title":null,"tickSize":{"condition":{"test":"round(datum.value*10)%3==0","value":-5},"value":-2.5}}},"y":{"field":"lo4","type":"quantitative","scale":{"domain":[-450,450],"nice":false,"zero":false},"axis":{"orient":"right","values":[-400,-300,-200,-100,0,100,200,300,400],"labels":false,"title":null,"tickSize":{"condition":{"test":"datum.value%200==0","value":-5},"value":-2.5}}}}}
]}
]
}
